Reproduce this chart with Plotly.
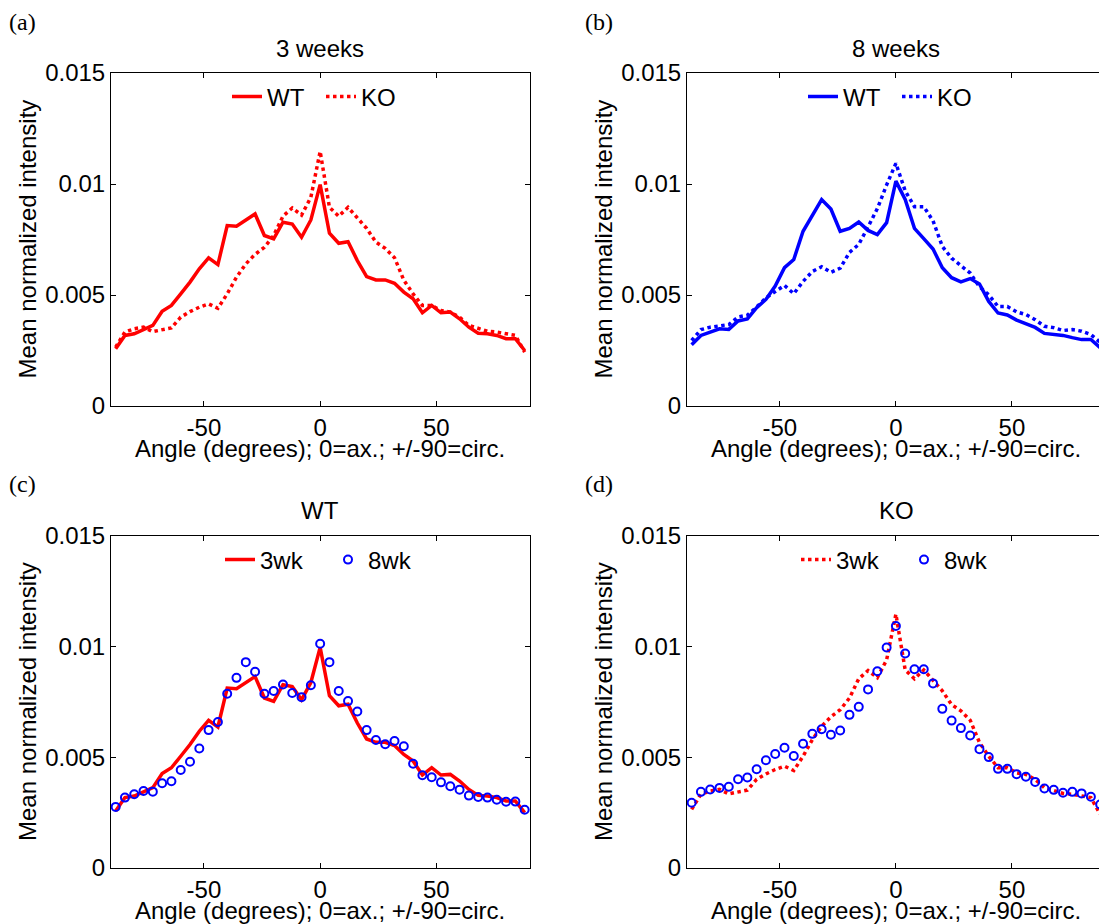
import plotly.graph_objects as go

# ---------------- data ----------------
angles = [-88, -84, -80, -76, -72, -68, -64, -60, -56, -52, -48, -44, -40, -36, -32,
          -28, -24, -20, -16, -12, -8, -4, 0, 4, 8, 12, 16, 20, 24, 28, 32, 36, 40,
          44, 48, 52, 56, 60, 64, 68, 72, 76, 80, 84, 88]

wt_3wk = [0.00258, 0.00318, 0.00325, 0.00343, 0.00363, 0.00427, 0.00453, 0.00505,
          0.00558, 0.00618, 0.00667, 0.00637, 0.00813, 0.00810, 0.00838, 0.00865,
          0.00768, 0.00753, 0.00828, 0.00820, 0.00760, 0.00838, 0.00997, 0.00778,
          0.00733, 0.00740, 0.00655, 0.00583, 0.00568, 0.00568, 0.00553, 0.00513,
          0.00483, 0.00420, 0.00453, 0.00420, 0.00423, 0.00393, 0.00355, 0.00328,
          0.00325, 0.00318, 0.00303, 0.00303, 0.00250]

ko_3wk = [0.00265, 0.00333, 0.00348, 0.00355, 0.00335, 0.00345, 0.00352, 0.00400,
          0.00425, 0.00445, 0.00460, 0.00440, 0.00505, 0.00580, 0.00640, 0.00683,
          0.00715, 0.00768, 0.00855, 0.00892, 0.00860, 0.00940, 0.01147, 0.00895,
          0.00855, 0.00895, 0.00850, 0.00800, 0.00738, 0.00710, 0.00668, 0.00567,
          0.00505, 0.00453, 0.00453, 0.00430, 0.00423, 0.00400, 0.00363, 0.00348,
          0.00337, 0.00333, 0.00325, 0.00318, 0.00243]

wt_8wk = [0.00276, 0.00318, 0.00333, 0.00348, 0.00345, 0.00383, 0.00392, 0.00443,
          0.00480, 0.00540, 0.00623, 0.00660, 0.00787, 0.00859, 0.00930, 0.00887,
          0.00787, 0.00800, 0.00829, 0.00791, 0.00772, 0.00826, 0.01013, 0.00930,
          0.00800, 0.00754, 0.00707, 0.00623, 0.00578, 0.00559, 0.00574, 0.00550,
          0.00471, 0.00419, 0.00410, 0.00387, 0.00369, 0.00354, 0.00327, 0.00321,
          0.00318, 0.00308, 0.00299, 0.00300, 0.00263]

ko_8wk = [0.00295, 0.00344, 0.00355, 0.00362, 0.00367, 0.00401, 0.00409, 0.00446,
          0.00487, 0.00515, 0.00543, 0.00506, 0.00561, 0.00606, 0.00627, 0.00602,
          0.00621, 0.00692, 0.00728, 0.00807, 0.00889, 0.00996, 0.01093, 0.00969,
          0.00898, 0.00898, 0.00834, 0.00719, 0.00666, 0.00632, 0.00599, 0.00537,
          0.00501, 0.00448, 0.00448, 0.00424, 0.00412, 0.00389, 0.00359, 0.00353,
          0.00340, 0.00344, 0.00337, 0.00322, 0.00287]

x_ticks = [-50, 0, 50]
x_ticktext = ["-50", "0", "50"]
y_ticks = [0, 0.005, 0.01, 0.015]
y_ticktext = ["0", "0.005", "0.01", "0.015"]

panel_titles = ["3 weeks", "8 weeks", "WT", "KO"]
panel_labels = ["(a)", "(b)", "(c)", "(d)"]
x_title = "Angle (degrees); 0=ax.; +/-90=circ."
y_title = "Mean normalized intensity"

# ---------------- layout geometry ----------------
W, H = 1099, 924
SANS = "Liberation Sans, Arial, Helvetica, sans-serif"
SERIF = "Liberation Serif, Times New Roman, serif"
FS = 24
RED = "#ff0000"
BLUE = "#0000ff"
LW = 3.5

def px_x(p):
    return p / W

def px_y(p):
    return 1 - p / H

# plot-area pixel boxes (left, top, right, bottom)
boxes = {
    1: (111, 73, 530, 406),
    2: (687, 73, 1099, 406),
    3: (111, 536, 530, 868),
    4: (687, 536, 1099, 868),
}
x_ranges = {1: [-90, 90.3], 2: [-90, 87.5], 3: [-90, 90.3], 4: [-90, 87.5]}
# legend placement: (left pixel, entry width)
legend_pos = {1: (227, 49), 2: (803, 49), 3: (220, 63), 4: (796, 63)}

fig = go.Figure()

def add_line(x, y, color, dash, name, idx, legend):
    fig.add_trace(go.Scatter(
        x=x, y=y, mode="lines", name=name,
        line=dict(color=color, width=LW, dash=dash),
        xaxis="x" if idx == 1 else f"x{idx}",
        yaxis="y" if idx == 1 else f"y{idx}",
        legend=legend, showlegend=True))

def add_markers(x, y, name, idx, legend):
    fig.add_trace(go.Scatter(
        x=x, y=y, mode="markers", name=name,
        marker=dict(symbol="circle-open", size=8, color=BLUE,
                    line=dict(width=2, color=BLUE)),
        xaxis=f"x{idx}", yaxis=f"y{idx}",
        legend=legend, showlegend=True))

# (a) 3 weeks
add_line(angles, wt_3wk, RED, "solid", "WT", 1, "legend")
add_line(angles, ko_3wk, RED, "dot", "KO", 1, "legend")
# (b) 8 weeks
add_line(angles, wt_8wk, BLUE, "solid", "WT", 2, "legend2")
add_line(angles, ko_8wk, BLUE, "dot", "KO", 2, "legend2")
# (c) WT
add_line(angles, wt_3wk, RED, "solid", "3wk", 3, "legend3")
add_markers(angles, wt_8wk, "8wk", 3, "legend3")
# (d) KO
add_line(angles, ko_3wk, RED, "dot", "3wk", 4, "legend4")
add_markers(angles, ko_8wk, "8wk", 4, "legend4")

layout = dict(
    width=W, height=H,
    margin=dict(l=0, r=0, t=0, b=0, autoexpand=False),
    paper_bgcolor="white", plot_bgcolor="white",
    font=dict(family=SANS, size=FS, color="black"),
    annotations=[],
)

for i in range(1, 5):
    l, t, r, b = boxes[i]
    xk = "xaxis" if i == 1 else f"xaxis{i}"
    yk = "yaxis" if i == 1 else f"yaxis{i}"
    right_cut = i in (2, 4)
    layout[xk] = dict(
        domain=[px_x(l), px_x(r)], range=x_ranges[i],
        anchor="y" if i == 1 else f"y{i}", automargin=False,
        tickvals=x_ticks, ticktext=x_ticktext, ticks="inside", ticklen=5,
        tickwidth=1, tickcolor="black", showline=True, linecolor="black",
        linewidth=1, mirror="ticks", showgrid=False, zeroline=False,
        tickfont=dict(family=SANS, size=FS, color="black"),
    )
    layout[yk] = dict(
        domain=[px_y(b), px_y(t)], range=[0, 0.015],
        anchor="x" if i == 1 else f"x{i}", automargin=False,
        tickvals=y_ticks, ticktext=y_ticktext, ticks="inside", ticklen=5,
        tickwidth=1, tickcolor="black", showline=True, linecolor="black",
        linewidth=1, mirror=False if right_cut else "ticks",
        showgrid=False, zeroline=False,
        tickfont=dict(family=SANS, size=FS, color="black"),
    )
    zero_px = 320 if i in (1, 3) else 896
    lk = "legend" if i == 1 else f"legend{i}"
    lx, ew = legend_pos[i]
    layout[lk] = dict(
        orientation="h", x=px_x(lx), xanchor="left",
        y=px_y(t + 24), yanchor="middle",
        entrywidth=ew, entrywidthmode="pixels",
        bgcolor="rgba(0,0,0,0)", borderwidth=0,
        font=dict(family=SANS, size=FS, color="black"),
    )
    # panel title
    layout["annotations"].append(dict(
        text=panel_titles[i - 1], xref="paper", yref="paper",
        x=px_x(zero_px), y=px_y(t - 25), xanchor="center", yanchor="middle",
        showarrow=False, font=dict(family=SANS, size=FS, color="black")))
    # x axis title
    layout["annotations"].append(dict(
        text=x_title, xref="paper", yref="paper",
        x=px_x(zero_px), y=px_y(b + 42), xanchor="center", yanchor="middle",
        showarrow=False, font=dict(family=SANS, size=FS, color="black")))
    # y axis title
    layout["annotations"].append(dict(
        text=y_title, xref="paper", yref="paper", textangle=-90,
        x=px_x(l - 84), y=px_y((t + b) / 2), xanchor="center", yanchor="middle",
        showarrow=False, font=dict(family=SANS, size=FS, color="black")))
    # panel label
    lab_x = 7 if i in (1, 3) else 583
    lab_y = 22 if i in (1, 2) else 484
    layout["annotations"].append(dict(
        text=panel_labels[i - 1], xref="paper", yref="paper",
        x=px_x(lab_x), y=px_y(lab_y), xanchor="left", yanchor="middle",
        showarrow=False, font=dict(family=SERIF, size=24, color="black")))

fig.update_layout(**layout)
fig.write_html("out.html")
